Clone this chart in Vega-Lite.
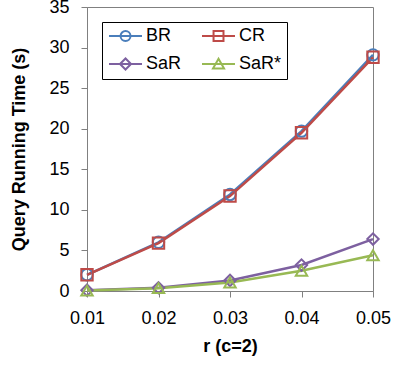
{
  "$schema": "https://vega.github.io/schema/vega-lite/v6.json",
  "width": 286,
  "height": 284,
  "autosize": {"type": "none"},
  "padding": {"left": 87, "top": 7, "right": 26, "bottom": 76},
  "background": "white",
  "config": {
    "font": "Liberation Sans",
    "view": {"stroke": "#808080", "strokeWidth": 1},
    "axis": {"grid": false, "domainColor": "#808080", "tickColor": "#808080", "labelColor": "#000000", "titleColor": "#000000", "labelFontSize": 18, "titleFontSize": 18, "titleFontWeight": "bold", "labelFont": "Liberation Sans", "titleFont": "Liberation Sans"}
  },
  "data": {
    "values": [
      {"r": 0.01, "series": "BR", "time": 2.0},
      {"r": 0.02, "series": "BR", "time": 6.0},
      {"r": 0.03, "series": "BR", "time": 11.9},
      {"r": 0.04, "series": "BR", "time": 19.7},
      {"r": 0.05, "series": "BR", "time": 29.1},
      {"r": 0.01, "series": "CR", "time": 2.0},
      {"r": 0.02, "series": "CR", "time": 5.9},
      {"r": 0.03, "series": "CR", "time": 11.7},
      {"r": 0.04, "series": "CR", "time": 19.5},
      {"r": 0.05, "series": "CR", "time": 28.8},
      {"r": 0.01, "series": "SaR", "time": 0.1},
      {"r": 0.02, "series": "SaR", "time": 0.4},
      {"r": 0.03, "series": "SaR", "time": 1.3},
      {"r": 0.04, "series": "SaR", "time": 3.2},
      {"r": 0.05, "series": "SaR", "time": 6.4},
      {"r": 0.01, "series": "SaR*", "time": 0.05},
      {"r": 0.02, "series": "SaR*", "time": 0.35},
      {"r": 0.03, "series": "SaR*", "time": 1.05},
      {"r": 0.04, "series": "SaR*", "time": 2.5},
      {"r": 0.05, "series": "SaR*", "time": 4.4}
    ]
  },
  "encoding": {
    "x": {
      "field": "r", "type": "quantitative",
      "scale": {"domain": [0.01, 0.05], "nice": false, "zero": false},
      "axis": {"values": [0.01, 0.02, 0.03, 0.04, 0.05], "format": ".2f", "title": "r (c=2)", "tickSize": 6, "labelPadding": 12, "titlePadding": 10, "labelFlush": false}
    },
    "y": {
      "field": "time", "type": "quantitative",
      "scale": {"domain": [0, 35], "nice": false},
      "axis": {"values": [0, 5, 10, 15, 20, 25, 30, 35], "title": "Query Running Time (s)", "tickSize": 6, "labelPadding": 12, "titlePadding": 20}
    },
    "color": {
      "field": "series", "type": "nominal",
      "scale": {"domain": ["BR", "CR", "SaR", "SaR*"], "range": ["#4A7EBB", "#BE4B48", "#7D60A0", "#98B954"]},
      "legend": {
        "title": null,
        "orient": "none",
        "legendX": 15,
        "legendY": 15,
        "columns": 2,
        "direction": "horizontal",
        "strokeColor": "#000000",
        "padding": 5,
        "labelFontSize": 18,
        "labelFont": "Liberation Sans",
        "labelColor": "#000000",
        "symbolSize": 196,
        "symbolStrokeWidth": 2,
        "labelOffset": 21,
        "columnPadding": 16,
        "rowPadding": 9,
        "encode": {
          "symbols": {
            "update": {
              "shape": {"signal": "datum.value == 'BR' ? 'M-1,0H3.71M0.65,0A0.71,0.71 0 1,0 2.07,0A0.71,0.71 0 1,0 0.65,0Z' : datum.value == 'CR' ? 'M-1,0H3.71M0.65,-0.71H2.07V0.71H0.65Z' : datum.value == 'SaR' ? 'M-1,0H3.71M0.57,0L1.36,-0.79L2.15,0L1.36,0.79Z' : 'M-1,0H3.71M1.36,-0.75L2.15,0.64L0.57,0.64Z'"},
              "fill": {"value": "transparent"},
              "strokeWidth": {"value": 2}
            }
          }
        }
      }
    }
  },
  "layer": [
    {"mark": {"type": "line", "strokeWidth": 2.5}},
    {"transform": [{"filter": "datum.series == 'BR'"}], "mark": {"type": "point", "shape": "circle", "filled": false, "size": 130, "strokeWidth": 2, "opacity": 1}},
    {"transform": [{"filter": "datum.series == 'CR'"}], "mark": {"type": "point", "shape": "square", "filled": false, "size": 130, "strokeWidth": 2, "opacity": 1}},
    {"transform": [{"filter": "datum.series == 'SaR'"}], "mark": {"type": "point", "shape": "diamond", "filled": false, "size": 130, "strokeWidth": 2, "opacity": 1}},
    {"transform": [{"filter": "datum.series == 'SaR*'"}], "mark": {"type": "point", "shape": "triangle-up", "filled": false, "size": 130, "strokeWidth": 2, "opacity": 1}}
  ]
}
